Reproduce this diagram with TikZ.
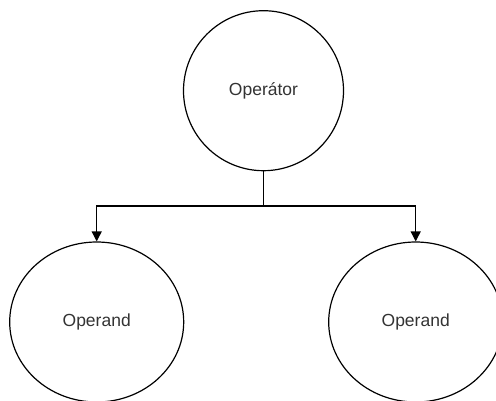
\documentclass[tikz,border=0pt]{standalone}
\usepackage{fontspec}
\setmainfont{Liberation Sans}
\usetikzlibrary{arrows.meta,shapes.geometric}

\begin{document}
\begin{tikzpicture}[x=1pt,y=-1pt,>={Triangle[length=10pt,width=10pt]},
  every node/.style={font=\fontsize{17.5}{21}\selectfont,text=black!80},
  opnode/.style={circle,draw,line width=1.2pt,minimum size=160pt,inner sep=0pt},
  argnode/.style={ellipse,draw,line width=1.2pt,minimum width=174pt,minimum height=160pt,inner sep=0pt}]
\useasboundingbox (0,0) rectangle (496,400);
\clip (0,0) rectangle (496,400);

\node[opnode] (op) at (263.5,90.7) {Operátor};
\node[argnode] (left) at (96.7,322) {Operand};
\node[argnode] (right) at (415.7,322) {Operand};

% split point below the operator
\coordinate (split) at (263.5,206);
\draw[line width=1.2pt] (op.south) -- (split);
\draw[->,line width=1.2pt] (split) -| (left.north);
\draw[->,line width=1.2pt] (split) -| (right.north);
\end{tikzpicture}
\end{document}
